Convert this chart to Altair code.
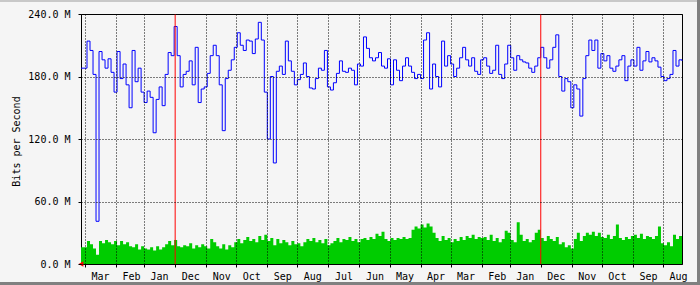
import altair as alt
import pandas as pd

NOW = "2011-04-05"      # newest day (left edge, MRTG draws newest on the left)
SPAN_DAYS = 600
STEP_DAYS = 3           # each value below covers 3 days, newest first

# Outgoing (blue line), Mbit/s, newest -> oldest
out_mbps = [
    188, 214, 205, 182, 41, 204, 196, 188, 197, 184,
    165, 204, 178, 192, 172, 150, 205, 175, 188, 165,
    155, 166, 160, 126, 158, 170, 152, 182, 203, 200,
    228, 200, 170, 182, 185, 195, 172, 208, 155, 168,
    170, 183, 200, 210, 200, 172, 128, 178, 186, 196,
    208, 222, 210, 205, 215, 214, 202, 216, 232, 215,
    165, 120, 180, 97, 185, 190, 182, 214, 195, 185,
    172, 177, 182, 193, 180, 169, 168, 178, 188, 186,
    205, 170, 167, 174, 183, 195, 185, 184, 188, 186,
    172, 192, 190, 218, 207, 198, 195, 198, 203, 190,
    188, 197, 172, 196, 186, 176, 190, 198, 190, 184,
    178, 182, 178, 215, 222, 168, 192, 180, 170, 214,
    190, 200, 192, 180, 188, 198, 208, 196, 190, 198,
    185, 182, 196, 198, 190, 183, 186, 210, 182, 178,
    192, 210, 198, 186, 200, 196, 194, 193, 188, 184,
    190, 198, 208, 198, 188, 196, 208, 220, 180, 166,
    178, 175, 150, 172, 168, 142, 178, 200, 215, 205,
    215, 188, 202, 195, 200, 188, 185, 190, 196, 200,
    176, 190, 196, 190, 208, 186, 195, 204, 194, 198,
    195, 189, 180, 176, 178, 182, 205, 190, 196, 195,
]

# Incoming (green area), Mbit/s, newest -> oldest
in_mbps = [
    16, 22, 19, 15, 9, 22, 20, 23, 21, 19,
    22, 18, 22, 19, 21, 17, 16, 19, 14, 17,
    15, 14, 16, 13, 17, 14, 16, 19, 22, 18,
    23, 17, 16, 18, 17, 20, 15, 18, 16, 19,
    17, 15, 24, 21, 17, 15, 19, 14, 18, 16,
    21, 24, 20, 23, 26, 22, 24, 21, 27, 23,
    28, 22, 25, 18, 24, 20, 23, 21, 18, 22,
    19, 20, 17, 21, 24, 22, 25, 21, 23, 20,
    24, 18, 20, 22, 25, 21, 24, 23, 26, 22,
    24, 21, 24, 25, 23, 26, 24, 29, 27, 31,
    24, 22, 25, 23, 25, 24, 26, 24, 25, 33,
    36, 34, 38, 35, 39, 36, 30, 25, 22, 27,
    23, 25, 21, 24, 22, 26, 23, 27, 25, 28,
    24, 26, 25, 26, 23, 28, 22, 25, 21, 24,
    32, 30, 23, 21, 40, 28, 22, 24, 21, 23,
    30, 33, 25, 22, 27, 24, 22, 26, 19, 21,
    16, 18, 15, 24, 30, 22, 27, 30, 28, 31,
    27, 30, 26, 25, 28, 24, 27, 38, 25, 23,
    26, 24, 27, 28, 25, 29, 24, 27, 26, 24,
    27, 36, 20, 18, 21, 17, 28, 24, 27, 25,
]

year_starts = ["2010-01-01", "2011-01-01"]
y_ticks = [0, 60, 120, 180, 240]
y_title = "Bits per Second"

now = pd.Timestamp(NOW)


def ms(ts):
    return int(pd.Timestamp(ts).value // 10**6)


def series_frame(values, name):
    rows = []
    for i, v in enumerate(values):
        start = now - pd.Timedelta(days=STEP_DAYS * (i + 1))
        rows.append({"t": ms(start), "v": v, "s": name})
    rows.append({"t": ms(now), "v": values[0], "s": name})
    return pd.DataFrame(rows).sort_values("t")


df_out = series_frame(out_mbps, "out")
df_in = series_frame(in_mbps, "in")
df_years = pd.DataFrame({"t": [ms(d) for d in year_starts]})

domain = [ms(now - pd.Timedelta(days=SPAN_DAYS)), ms(now)]
FONT = "DejaVu Sans Mono"
JAN = "utcmonth(datum.value) === 0"

x_enc = alt.X(
    "t:T",
    scale=alt.Scale(type="utc", domain=domain, reverse=True, nice=False),
    axis=alt.Axis(
        title=None,
        tickCount={"interval": "month", "step": 1},
        labelExpr="utcFormat(datum.value - 15*86400000, '%b')",
        labelOffset=15,
        labelAlign="center",
        labelBaseline="top",
        labelPadding=4,
        labelFlush=False,
        labelBound=False,
        labelOverlap=False,
        labelFont=FONT,
        labelFontSize=10,
        labelColor="#000000",
        tickSize=3,
        tickColor="#000000",
        domain=False,
        grid=True,
        gridColor="#000000",
        gridDash={"condition": {"test": JAN, "value": [0, 1000]}, "value": [1, 2]},
        gridOpacity=1,
        gridWidth=1,
        zindex=1,
    ),
)

y_enc = alt.Y(
    "v:Q",
    scale=alt.Scale(domain=[0, 240], nice=False),
    axis=alt.Axis(
        values=y_ticks,
        labelExpr="format(datum.value, '.1f') + ' M'",
        labelFont=FONT,
        labelFontSize=10,
        labelColor="#000000",
        labelPadding=8,
        tickSize=3,
        tickColor="#000000",
        domain=False,
        grid=True,
        gridColor="#000000",
        gridDash=[1, 2],
        gridOpacity=1,
        title=y_title,
        titleFont=FONT,
        titleFontSize=10,
        titleFontWeight="normal",
        titleColor="#000000",
        titleX=-65,
        titleY=127,
        titleBaseline="middle",
        titleAlign="center",
        titleAngle=270,
        zindex=1,
    ),
)

area = alt.Chart(df_in).mark_area(interpolate="step-after", color="#00cc00", opacity=1).encode(
    x=x_enc, y=y_enc
)
line = alt.Chart(df_out).mark_line(interpolate="step-after", color="#0000ff", strokeWidth=1).encode(
    x="t:T", y="v:Q"
)
years = alt.Chart(df_years).mark_rule(color="#ff0000", strokeWidth=1, opacity=1).encode(x="t:T")
arrow = alt.Chart(pd.DataFrame({"t": [ms(now)], "v": [0]})).mark_point(
    shape="triangle-left", filled=True, color="#ff0000", size=30, opacity=1
).encode(x="t:T", y="v:Q")

# decorative MRTG-style image frame (outside the plot area)
frame_top = alt.Chart(df_years).mark_rule(color="#c8c8c8", strokeWidth=2).encode(
    x=alt.value(-81), x2=alt.value(619), y=alt.value(-13)
)
frame_bottom = alt.Chart(df_years).mark_rule(color="#808080", strokeWidth=3).encode(
    x=alt.value(-81), x2=alt.value(619), y=alt.value(269.5)
)
frame_right = alt.Chart(df_years).mark_rule(color="#808080", strokeWidth=3).encode(
    x=alt.value(617.5), y=alt.value(-14), y2=alt.value(271)
)

chart = (
    alt.layer(area, line, years, arrow, frame_top, frame_bottom, frame_right)
    .properties(
        width=601,
        height=250,
        autosize=alt.AutoSizeParams(type="none"),
        padding={"left": 81, "top": 14, "right": 18, "bottom": 21},
        background="#f5f5f5",
    )
    .configure_view(stroke="#000000", strokeWidth=1, fill="#f5f5f5")
)

chart.save("out.html", embed_options={"renderer": "svg", "actions": False})
